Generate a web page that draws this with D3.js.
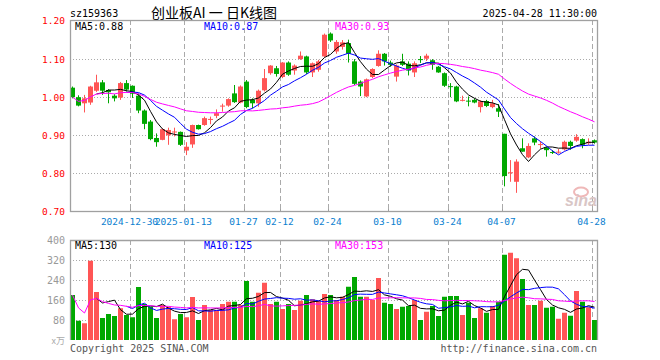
<!DOCTYPE html>
<html><head><meta charset="utf-8">
<script src="https://cdn.jsdelivr.net/npm/d3@7"></script>
<style>body{margin:0;background:#fff}svg{display:block}</style>
</head><body><svg id="c" width="660" height="360"></svg>
<script>
// ---- data ----
const dates = [
"2024-12-16","2024-12-17","2024-12-18","2024-12-19","2024-12-20","2024-12-23","2024-12-24","2024-12-25","2024-12-26","2024-12-27","2024-12-30","2024-12-31",
"2025-01-02","2025-01-03","2025-01-06","2025-01-07","2025-01-08","2025-01-09","2025-01-10","2025-01-13","2025-01-14","2025-01-15","2025-01-16","2025-01-17","2025-01-20","2025-01-21","2025-01-22","2025-01-23","2025-01-24","2025-01-27",
"2025-02-05","2025-02-06","2025-02-07","2025-02-10","2025-02-11","2025-02-12","2025-02-13","2025-02-14","2025-02-17","2025-02-18","2025-02-19","2025-02-20","2025-02-21","2025-02-24","2025-02-25","2025-02-26","2025-02-27","2025-02-28",
"2025-03-03","2025-03-04","2025-03-05","2025-03-06","2025-03-07","2025-03-10","2025-03-11","2025-03-12","2025-03-13","2025-03-14","2025-03-17","2025-03-18","2025-03-19","2025-03-20","2025-03-21","2025-03-24","2025-03-25","2025-03-26","2025-03-27","2025-03-28","2025-03-31",
"2025-04-01","2025-04-02","2025-04-03","2025-04-07","2025-04-08","2025-04-09","2025-04-10","2025-04-11","2025-04-14","2025-04-15","2025-04-16","2025-04-17","2025-04-18","2025-04-21","2025-04-22","2025-04-23","2025-04-24","2025-04-25","2025-04-28"];
const open  = [1.025,1.000,0.984,0.986,1.017,1.039,1.019,1.004,0.999,1.037,1.030,1.004,0.965,0.936,0.893,0.888,0.900,0.908,0.909,0.860,0.876,0.927,0.927,0.941,0.951,0.976,0.978,1.010,0.986,1.041,0.993,0.984,1.018,1.063,1.076,1.053,1.091,1.070,1.100,1.107,1.065,1.072,1.107,1.167,1.120,1.132,1.142,1.094,1.041,1.002,1.053,1.082,1.114,1.091,1.054,1.094,1.088,1.065,1.100,1.101,1.097,1.080,1.063,1.029,1.028,0.992,0.991,0.993,0.974,0.990,0.974,0.971,0.904,0.802,0.778,0.866,0.842,0.892,0.876,0.868,0.856,0.856,0.863,0.883,0.886,0.890,0.879,0.887];
const high  = [1.028,1.005,1.006,1.030,1.059,1.045,1.021,1.008,1.040,1.045,1.031,1.010,0.968,0.940,0.905,0.918,0.920,0.920,0.910,0.882,0.928,0.928,0.949,0.949,0.968,0.983,0.997,1.032,1.031,1.045,0.997,1.020,1.074,1.084,1.082,1.092,1.094,1.086,1.120,1.109,1.091,1.098,1.167,1.170,1.150,1.150,1.151,1.100,1.044,1.049,1.076,1.123,1.116,1.096,1.086,1.114,1.094,1.094,1.108,1.114,1.100,1.082,1.065,1.037,1.030,1.004,1.002,0.997,0.992,0.993,0.993,0.982,0.904,0.835,0.837,0.892,0.879,0.897,0.883,0.870,0.861,0.864,0.886,0.886,0.903,0.892,0.892,0.889];
const low   = [0.997,0.976,0.960,0.980,1.014,1.006,0.984,0.989,0.993,1.015,0.998,0.958,0.916,0.887,0.870,0.887,0.875,0.897,0.872,0.848,0.867,0.915,0.925,0.929,0.945,0.962,0.975,0.985,0.984,0.971,0.971,0.975,1.015,1.059,1.054,1.050,1.056,1.059,1.098,1.061,1.053,1.067,1.105,1.145,1.114,1.125,1.091,1.032,1.003,1.000,1.050,1.080,1.083,1.080,1.041,1.082,1.057,1.053,1.090,1.095,1.072,1.064,1.027,1.000,0.987,0.989,0.976,0.984,0.960,0.974,0.971,0.948,0.766,0.778,0.749,0.857,0.840,0.874,0.865,0.844,0.851,0.852,0.860,0.862,0.883,0.866,0.875,0.878];
const close = [1.000,0.978,0.997,1.028,1.039,1.017,1.013,0.997,1.037,1.020,1.009,0.965,0.930,0.890,0.882,0.916,0.914,0.910,0.875,0.870,0.927,0.916,0.945,0.943,0.958,0.978,0.995,0.987,1.028,0.974,0.984,1.017,1.050,1.083,1.061,1.091,1.059,1.083,1.109,1.065,1.089,1.094,1.164,1.149,1.145,1.144,1.114,1.035,1.028,1.047,1.074,1.114,1.094,1.085,1.083,1.085,1.070,1.089,1.098,1.109,1.085,1.065,1.030,1.028,0.989,0.993,0.990,0.986,0.989,0.977,0.984,0.962,0.793,0.803,0.831,0.857,0.872,0.881,0.877,0.861,0.855,0.857,0.883,0.872,0.896,0.875,0.883,0.881];
const volume = [180,77,67,317,192,88,104,96,127,100,91,212,144,133,88,140,133,83,104,91,172,80,140,120,120,144,153,153,140,236,153,189,229,144,153,124,144,120,157,180,163,157,184,180,160,173,213,252,173,173,160,248,149,144,124,133,136,160,80,113,136,96,173,176,176,100,149,88,127,109,136,153,341,349,327,244,140,140,157,129,133,85,109,97,196,153,131,80];
const tickDates  = ["2024-12-30","2025-01-13","2025-01-27","2025-02-12","2025-02-24","2025-03-10","2025-03-24","2025-04-07","2025-04-28"];
const tickLabels = ["2024-12-30","2025-01-13","01-27","02-12","02-24","03-10","03-24","04-07","04-28"];
const priceTicks = [0.70,0.80,0.90,1.00,1.10,1.20];
const volTicks = [80,160,240,320,400];
const priceMALabels = ["MA5:0.88","MA10:0.87","MA30:0.93"];
const volMALabels = ["MA5:130","MA10:125","MA30:153"];
const maPeriods = [5,10,30];

// ---- drawing ----
const RED="#ff5555", GREEN="#00a800", GRID="#aaaaaa", FRAME="#a0a0a0";
const maColors=["#000000","#0000ff","#ff00ff"];
const MONO="'DejaVu Sans Mono','Liberation Mono',monospace";
const svg=d3.select("#c");
const n=dates.length;
const L=70,R=598, PT=20, PB=211.5, VT=240, VB=340;
const x=d3.scaleLinear().domain([0,n]).range([L,R]);
const cx=i=>x(i)+2.5;
const y=d3.scaleLinear().domain([0.70,1.20]).range([PB,21]);
const yv=d3.scaleLinear().domain([0,400]).range([VB,VT]);
const isUp=i=> close[i]>open[i] || (close[i]===open[i] && (i===0 || close[i]>=close[i-1]));

function ma(arr,p,partial){
  return arr.map((d,i)=>{
    if(i<p-1 && !partial) return null;
    const s=arr.slice(Math.max(0,i-p+1),i+1);
    return d3.mean(s);
  });
}

svg.append("defs").html(`<clipPath id="cp"><rect x="${L}" y="${PT}" width="${R-L}" height="${PB-PT}"/></clipPath>
<clipPath id="cv"><rect x="${L}" y="${VT}" width="${R-L}" height="${VB-VT}"/></clipPath>`);

// header
svg.append("text").attr("x",70).attr("y",17).attr("font-family",MONO).attr("font-size",10).attr("fill","#000").text("sz159363");
svg.append("text").attr("x",151).attr("y",18).attr("font-family","'Noto Sans CJK SC',sans-serif").attr("font-size",14).attr("fill","#000").text("创业板AI 一 日K线图");
svg.append("text").attr("x",597).attr("y",17).attr("text-anchor","end").attr("font-family",MONO).attr("font-size",10).attr("fill","#000").text("2025-04-28 11:30:00");

const tickX = tickDates.map(d=>Math.round(x(dates.indexOf(d)))+0.5);

function pane(top,bottom,yS,ticks,gridTicks,labColor,labFmt){
  const g=svg.append("g");
  g.selectAll(".hg").data(gridTicks).join("line")
    .attr("x1",L).attr("x2",R).attr("y1",d=>Math.round(yS(d))+0.5).attr("y2",d=>Math.round(yS(d))+0.5)
    .attr("stroke",GRID).attr("stroke-dasharray","1,2");
  g.selectAll(".vg").data(tickX).join("line")
    .attr("x1",d=>d).attr("x2",d=>d).attr("y1",top).attr("y2",bottom)
    .attr("stroke",GRID).attr("stroke-dasharray","5,3");
  g.selectAll(".yl").data(ticks).join("text")
    .attr("x",65).attr("y",d=>yS(d)).attr("dy","0.36em").attr("text-anchor","end")
    .attr("font-family",MONO).attr("font-size",labColor==="#ff0000"?9.5:10).attr("fill",labColor).text(labFmt);
  return g;
}
pane(PT,PB,y,priceTicks,[0.8,0.9,1.0,1.1],"#ff0000",d=>d.toFixed(2));
pane(VT,VB,yv,volTicks,[80,160,240,320],"#999999",d=>d);

// candles
const gc=svg.append("g").attr("clip-path","url(#cp)");
const idx=d3.range(n);
gc.selectAll(".wick").data(idx).join("line")
  .attr("x1",i=>cx(i)).attr("x2",i=>cx(i)).attr("y1",i=>y(high[i])).attr("y2",i=>y(low[i]))
  .attr("stroke",i=>isUp(i)?RED:GREEN).attr("stroke-width",1);
gc.selectAll(".body").data(idx).join("rect")
  .attr("x",i=>x(i)).attr("width",5)
  .attr("y",i=>y(Math.max(open[i],close[i])))
  .attr("height",i=>Math.max(1,Math.abs(y(open[i])-y(close[i]))))
  .attr("fill",i=>isUp(i)?RED:GREEN);

// volume bars
const gv=svg.append("g").attr("clip-path","url(#cv)");
gv.selectAll(".vb").data(idx).join("rect")
  .attr("x",i=>x(i)).attr("width",5)
  .attr("y",i=>yv(volume[i])).attr("height",i=>VB-yv(volume[i]))
  .attr("fill",i=>isUp(i)?RED:GREEN);

// MA lines
maPeriods.forEach((p,k)=>{
  const pm=ma(close,p,p===30), vm=ma(volume,p,p===30);
  const lp=d3.line().defined(d=>d!=null).x((d,i)=>cx(i)).y(d=>y(d));
  const lv=d3.line().defined(d=>d!=null).x((d,i)=>cx(i)).y(d=>yv(d));
  gc.append("path").attr("d",lp(pm)).attr("fill","none").attr("stroke",maColors[k]).attr("stroke-width",1);
  gv.append("path").attr("d",lv(vm)).attr("fill","none").attr("stroke",maColors[k]).attr("stroke-width",1);
});

// frames
svg.append("rect").attr("x",L+0.5).attr("y",PT+0.5).attr("width",R-L-1).attr("height",PB-PT-0.5)
  .attr("fill","none").attr("stroke",FRAME).attr("stroke-width",1.3);
svg.append("path").attr("d",`M${L+0.5},${VB}V${VT+0.5}H${R-0.5}V${VB}`)
  .attr("fill","none").attr("stroke",FRAME).attr("stroke-width",1.3);
// x ticks on price bottom
svg.selectAll(".xt").data(tickX).join("line")
  .attr("x1",d=>d).attr("x2",d=>d).attr("y1",PB-2.5).attr("y2",PB).attr("stroke",FRAME);
svg.selectAll(".xl").data(tickLabels).join("text")
  .attr("x",(d,i)=>tickX[i]-1).attr("y",225).attr("text-anchor","middle")
  .attr("font-family",MONO).attr("font-size",9.5).attr("fill","#0a80d0").text(d=>d);

// MA legends
const legX=[75,204,335];
priceMALabels.forEach((t,k)=>svg.append("text").attr("x",legX[k]).attr("y",30).attr("font-family",MONO).attr("font-size",10).attr("fill",maColors[k]).text(t));
volMALabels.forEach((t,k)=>svg.append("text").attr("x",legX[k]).attr("y",249).attr("font-family",MONO).attr("font-size",10).attr("fill",maColors[k]).text(t));

// unit, watermark, footer
svg.append("text").attr("x",65).attr("y",344).attr("text-anchor","end").attr("font-family","'Noto Sans CJK SC',sans-serif").attr("font-size",9).attr("fill","#aaaaaa").text("x万");
svg.append("ellipse").attr("cx",581).attr("cy",192).attr("rx",7).attr("ry",4.5).attr("fill","none").attr("stroke","#efb8b8").attr("stroke-width",2);
svg.append("text").attr("x",565).attr("y",206).attr("font-family","'Liberation Sans',Arial,sans-serif").attr("font-style","italic").attr("font-weight","bold").attr("font-size",16).attr("fill","#d9c6c6").text("sina");
svg.append("text").attr("x",70).attr("y",352).attr("font-family",MONO).attr("font-size",10).attr("fill","#555").text("Copyright 2025 SINA.COM");
svg.append("text").attr("x",597).attr("y",352).attr("text-anchor","end").attr("font-family",MONO).attr("font-size",10).attr("fill","#555").text("http://finance.sina.com.cn");
</script></body></html>
